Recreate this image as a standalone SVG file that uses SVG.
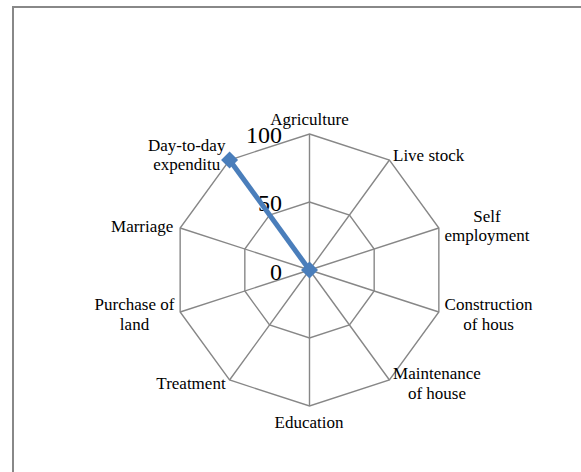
<svg xmlns="http://www.w3.org/2000/svg" width="581" height="472" viewBox="0 0 581 472">
<style>
.frame{fill:none;stroke:#888;stroke-width:2}
.web{fill:none;stroke:#878787;stroke-width:1.4}
.lbl{font-family:"Liberation Serif","Times New Roman",serif;font-size:17px;fill:#000}
.mid{text-anchor:middle}
.tick{font-family:"Liberation Serif","Times New Roman",serif;font-size:24px;fill:#000;text-anchor:end}
.series{fill:none;stroke:#4a7ebb;stroke-width:5;stroke-linecap:butt}
.mk{fill:#4a7ebb}
</style>
<defs>
<path id="dm" d="M0,-8.5 L8.5,0 L0,8.5 L-8.5,0 Z"/>
</defs>
<rect width="581" height="472" fill="#fff"/>
<path class="frame" d="M13,473 L13,7 L582,7"/>
<g id="grid">
<polygon class="web" points="309.5,134 389.44,159.98 438.85,227.98 438.85,312.02 389.44,380.02 309.5,406 229.56,380.02 180.15,312.02 180.15,227.98 229.56,159.98"/>
<polygon class="web" points="309.5,202 349.47,214.99 374.17,248.99 374.17,291.01 349.47,325.01 309.5,338 269.53,325.01 244.83,291.01 244.83,248.99 269.53,214.99"/>
<path class="web" d="M309.5,270 L309.5,134 M309.5,270 L389.44,159.98 M309.5,270 L438.85,227.98 M309.5,270 L438.85,312.02 M309.5,270 L389.44,380.02 M309.5,270 L309.5,406 M309.5,270 L229.56,380.02 M309.5,270 L180.15,312.02 M309.5,270 L180.15,227.98 M309.5,270 L229.56,159.98"/>
</g>
<g id="ticks">
<text class="tick" x="282" y="143.3">100</text>
<text class="tick" x="282" y="210.7">50</text>
<text class="tick" x="282" y="280">0</text>
</g>
<g id="connectors">
<path class="series" d="M309.5,270 L229.56,159.98"/>
<use href="#dm" class="mk" x="229.56" y="159.98"/>
<use href="#dm" class="mk" x="309.5" y="270"/>
</g>
<g id="agriculture"><text class="lbl mid" x="309.5" y="125">Agriculture</text></g>
<g id="livestock"><text class="lbl" x="393" y="161">Live stock</text></g>
<g id="selfemployment"><text class="lbl mid" x="487" y="221.5">Self</text><text class="lbl mid" x="487" y="240.5">employment</text></g>
<g id="construction"><text class="lbl mid" x="488.5" y="310">Construction</text><text class="lbl mid" x="488.5" y="329.5">of hous</text></g>
<g id="maintenance"><text class="lbl mid" x="437" y="379">Maintenance</text><text class="lbl mid" x="437" y="399">of house</text></g>
<g id="education"><text class="lbl mid" x="309" y="427.5">Education</text></g>
<g id="treatment"><text class="lbl mid" x="191" y="389">Treatment</text></g>
<g id="purchase"><text class="lbl mid" x="134.5" y="310">Purchase of</text><text class="lbl mid" x="134.5" y="329.5">land</text></g>
<g id="marriage"><text class="lbl mid" x="142.2" y="231.5">Marriage</text></g>
<g id="daytoday"><text class="lbl mid" x="186.7" y="151">Day-to-day</text><text class="lbl mid" x="186.7" y="170">expenditu</text></g>
</svg>
